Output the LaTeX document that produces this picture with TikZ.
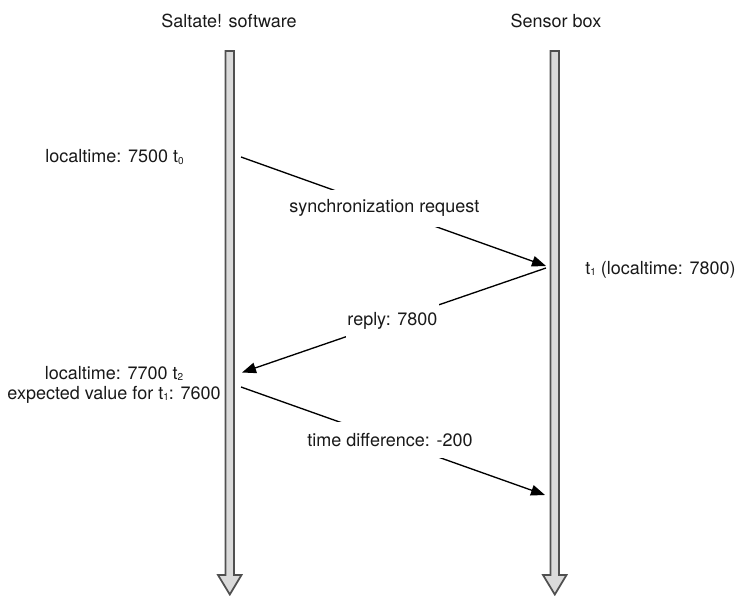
\documentclass[tikz,border=0pt]{standalone}
\usepackage{fontspec}
\setmainfont{TeX Gyre Heros}
\usetikzlibrary{arrows.meta}
\definecolor{lifefill}{HTML}{DADADA}
\definecolor{lifeborder}{HTML}{505050}
\newcommand\tinysub[1]{\raisebox{-1pt}{\fontsize{7.5}{8}\selectfont #1}}
\begin{document}
\begin{tikzpicture}[x=0.75pt,y=-0.75pt,
  txt/.style={inner sep=0pt,font=\fontsize{13.5}{15}\selectfont,text=black!90},
  lbl/.style={fill=white,inner xsep=1pt,minimum height=27.5pt,font=\fontsize{13.5}{15}\selectfont,text=black!90},
  msg/.style={line width=1pt,-{Triangle[length=10.5pt,width=8pt]}},
  lifeline/.style={draw=lifeborder,fill=lifefill,line width=1.3pt,line join=miter}]
\useasboundingbox (0,0) rectangle (736,596);
% lifelines
\draw[lifeline] (225.5,51) -- (225.5,575) -- (218,575) -- (229.8,594.5) -- (241.5,575) -- (234,575) -- (234,51) -- cycle;
\draw[lifeline] (550.5,51) -- (550.5,575) -- (543,575) -- (554.8,594.5) -- (566.5,575) -- (559,575) -- (559,51) -- cycle;
% titles
\node[txt] (tl) at (229,21) {Saltate! software};
\node[txt] (tr) at (556,21) {Sensor box};
% side labels
\node[txt] (l0) at (114.5,157) {localtime: 7500 t\tinysub{0}};
\node[txt,align=center] (l2) at (114,385) {localtime: 7700 t\tinysub{2}\\expected value for t\tinysub{1}: 7600};
\node[txt,anchor=west] (r1) at (585,270) {t\tinysub{1} (localtime: 7800)};
% message endpoints
\coordinate (a0) at (241,157);
\coordinate (b0) at (546,266);
\coordinate (b1) at (546,268);
\coordinate (a1) at (242,372.5);
\coordinate (a2) at (241,387);
\coordinate (b2) at (545,495);
% messages
\draw[msg] (a0) -- node[lbl,pos=0.47] (m1) {synchronization request} (b0);
\draw[msg] (b1) -- node[lbl,pos=0.505] (m2) {reply: 7800} (a1);
\draw[msg] (a2) -- node[lbl,pos=0.49] (m3) {time difference: -200} (b2);
\end{tikzpicture}
\end{document}
